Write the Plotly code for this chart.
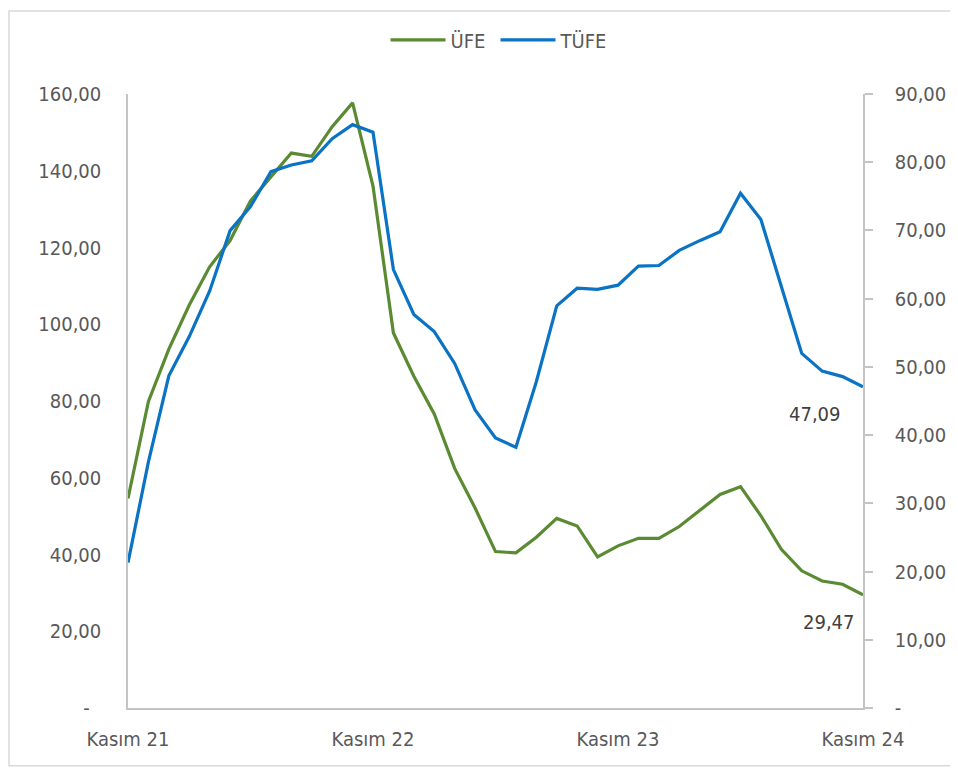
# -*- coding: utf-8 -*-
"""
ÜFE / TÜFE yıllık değişim grafiği
"""
# Third party
import plotly.graph_objects as go

# months Kasım 21 .. Kasım 24 (category axis)
MONTHS = ["Kasım 21", "Aralık 21",
          "Ocak 22", "Şubat 22", "Mart 22", "Nisan 22", "Mayıs 22", "Haziran 22",
          "Temmuz 22", "Ağustos 22", "Eylül 22", "Ekim 22", "Kasım 22", "Aralık 22",
          "Ocak 23", "Şubat 23", "Mart 23", "Nisan 23", "Mayıs 23", "Haziran 23",
          "Temmuz 23", "Ağustos 23", "Eylül 23", "Ekim 23", "Kasım 23", "Aralık 23",
          "Ocak 24", "Şubat 24", "Mart 24", "Nisan 24", "Mayıs 24", "Haziran 24",
          "Temmuz 24", "Ağustos 24", "Eylül 24", "Ekim 24", "Kasım 24"]

UFE = [54.62, 79.89,
       93.53, 105.01, 114.97, 121.82, 132.16, 138.31,
       144.61, 143.75, 151.50, 157.69, 136.02, 97.72,
       86.46, 76.61, 62.43, 52.11, 40.76, 40.42,
       44.50, 49.41, 47.44, 39.39, 42.25, 44.22,
       44.20, 47.29, 51.47, 55.66, 57.68, 50.09,
       41.37, 35.75, 33.09, 32.24, 29.47]

TUFE = [21.31, 36.08,
        48.69, 54.44, 61.14, 69.97, 73.50, 78.62,
        79.60, 80.21, 83.45, 85.51, 84.39, 64.27,
        57.68, 55.18, 50.51, 43.68, 39.59, 38.21,
        47.83, 58.94, 61.53, 61.36, 61.98, 64.77,
        64.86, 67.07, 68.50, 69.80, 75.45, 71.60,
        61.78, 51.97, 49.38, 48.58, 47.09]

X_TICKS = ["Kasım 21", "Kasım 22", "Kasım 23", "Kasım 24"]
LEFT_TICKS = [0, 20, 40, 60, 80, 100, 120, 140, 160]
RIGHT_TICKS = [0, 10, 20, 30, 40, 50, 60, 70, 80, 90]

GREEN = "#5A8A32"
BLUE = "#0A73C4"
GREY = "#595959"
AXIS = "#C4C4C4"
FONT = "DejaVu Sans Condensed, DejaVu Sans, sans-serif"
SIZE = 20


def tr_number(value: float) -> str:
    # 12.34 -> "12,34"
    return f"{value:.2f}".replace(".", ",")


def tick_text(values, zero: str):
    return [zero if v == 0 else tr_number(v) for v in values]


figure = go.Figure()
figure.add_trace(go.Scatter(x=MONTHS, y=UFE, name="ÜFE", mode="lines",
                            line={"color": GREEN, "width": 3.2}, yaxis="y"))
figure.add_trace(go.Scatter(x=MONTHS, y=TUFE, name="TÜFE", mode="lines",
                            line={"color": BLUE, "width": 3.2}, yaxis="y2"))

# value labels at the last point
figure.add_annotation(x=MONTHS[-1], y=UFE[-1], yref="y", text=tr_number(UFE[-1]),
                      showarrow=False, xshift=-34, yshift=-27,
                      font={"family": FONT, "size": SIZE, "color": "#404040"})
figure.add_annotation(x=MONTHS[-1], y=TUFE[-1], yref="y2", text=tr_number(TUFE[-1]),
                      showarrow=False, xshift=-48, yshift=-27,
                      font={"family": FONT, "size": SIZE, "color": "#404040"})

# light frame round the whole chart
figure.add_shape(type="rect", xref="paper", yref="paper",
                 x0=-0.1619, x1=1.1206, y0=-0.0942, y1=1.1352,
                 line={"color": "#D9D9D9", "width": 1.5}, layer="below")

# the page body has an 8px margin, so the figure is a bit smaller
figure.update_layout(
    width=950, height=761,
    margin={"l": 120, "r": 92, "t": 84, "b": 61},
    paper_bgcolor="white", plot_bgcolor="white",
    font={"family": FONT, "size": SIZE, "color": GREY},
    showlegend=True,
    legend={"orientation": "h", "x": 0.5, "xanchor": "center",
            "y": 1.088, "yanchor": "middle", "itemwidth": 55,
            "entrywidth": 40,
            "font": {"family": FONT, "size": SIZE, "color": GREY}},
    xaxis={"type": "category", "range": [0, len(MONTHS) - 1],
           "tickvals": X_TICKS, "ticktext": X_TICKS,
           "showgrid": False, "zeroline": False,
           "showline": True, "linecolor": AXIS, "linewidth": 1.5,
           "ticks": "", "ticklabelstandoff": 12},
    yaxis={"range": [0, 160], "tickvals": LEFT_TICKS,
           "ticktext": tick_text(LEFT_TICKS, "-\u00a0\u00a0"),
           "showgrid": False, "zeroline": False,
           "showline": True, "linecolor": AXIS, "linewidth": 1.5,
           "ticks": "", "ticklabelstandoff": 21},
    yaxis2={"range": [0, 90], "tickvals": RIGHT_TICKS,
            "ticktext": tick_text(RIGHT_TICKS, "-"),
            "overlaying": "y", "side": "right",
            "showgrid": False, "zeroline": False,
            "showline": True, "linecolor": AXIS, "linewidth": 1.5,
            "ticks": "outside", "ticklen": 8, "tickcolor": AXIS,
            "tickwidth": 1.5, "ticklabelstandoff": 18},
)

figure.write_html("out.html")
